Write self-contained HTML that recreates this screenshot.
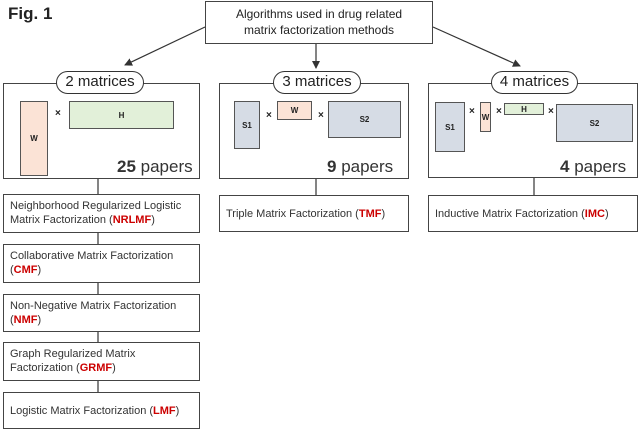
<!DOCTYPE html>
<html><head><style>
body{margin:0;width:640px;height:430px;background:#fff;position:relative;overflow:hidden;font-family:"Liberation Sans",sans-serif;color:#333}
.a{position:absolute;box-sizing:border-box}
.bx{position:absolute;box-sizing:border-box;border:1.5px solid #444;background:#fff}
.pill{position:absolute;box-sizing:border-box;border:1.5px solid #333;border-radius:12px;background:#fff;font-size:15px;text-align:center;line-height:20px;color:#222}
.m{position:absolute;box-sizing:border-box;border:1.5px solid #555;font-size:8px;font-weight:bold;display:flex;align-items:center;justify-content:center;color:#222}
.x{position:absolute;font-size:10px;font-weight:bold;color:#222}
.pp{position:absolute;font-size:17px;color:#333}
.t{position:absolute;font-size:11px;line-height:14px;padding:0 6px;color:#333}
.r{color:#c00;font-weight:bold}
</style></head><body>
<div class="a" style="left:8px;top:4px;font-size:17px;font-weight:bold;color:#222">Fig. 1</div>
<div class="bx" style="left:205px;top:1px;width:228px;height:43px;font-size:12px;text-align:center;line-height:16px;padding-top:4px;color:#222">Algorithms used in drug related<br>matrix factorization methods</div>
<svg class="a" style="left:0;top:0" width="640" height="430">
<defs><marker id="ar" markerWidth="8" markerHeight="8" refX="7" refY="4" orient="auto" markerUnits="userSpaceOnUse"><path d="M0,0 L8,4 L0,8z" fill="#333"/></marker></defs>
<g stroke="#333" stroke-width="1.2">
<line x1="205" y1="27" x2="125" y2="65" marker-end="url(#ar)"/>
<line x1="316" y1="44" x2="316" y2="68" marker-end="url(#ar)"/>
<line x1="433" y1="27" x2="520" y2="66" marker-end="url(#ar)"/>
<line x1="98" y1="178" x2="98" y2="392"/>
<line x1="316" y1="178" x2="316" y2="195"/>
<line x1="534" y1="177" x2="534" y2="195"/>
</g></svg>
<div class="bx" style="left:3px;top:83px;width:197px;height:96px"></div>
<div class="bx" style="left:219px;top:83px;width:190px;height:96px"></div>
<div class="bx" style="left:428px;top:83px;width:210px;height:95px"></div>
<div class="pill" style="left:56px;top:71px;width:88px;height:23px">2 matrices</div>
<div class="pill" style="left:273px;top:71px;width:88px;height:23px">3 matrices</div>
<div class="pill" style="left:491px;top:71px;width:87px;height:23px">4 matrices</div>
<div class="m" style="left:20px;top:101px;width:28px;height:75px;background:#fbe3d6">W</div>
<div class="x" style="left:55px;top:108px">×</div>
<div class="m" style="left:69px;top:101px;width:105px;height:28px;background:#e2f0d9">H</div>
<div class="pp" style="left:117px;top:157px"><b>25</b> papers</div>
<div class="m" style="left:234px;top:101px;width:26px;height:48px;background:#d6dce5">S1</div>
<div class="x" style="left:266px;top:110px">×</div>
<div class="m" style="left:277px;top:101px;width:35px;height:19px;background:#fbe3d6">W</div>
<div class="x" style="left:318px;top:110px">×</div>
<div class="m" style="left:328px;top:101px;width:73px;height:37px;background:#d6dce5">S2</div>
<div class="pp" style="left:327px;top:157px"><b>9</b> papers</div>
<div class="m" style="left:435px;top:102px;width:30px;height:50px;background:#d6dce5">S1</div>
<div class="x" style="left:469px;top:106px">×</div>
<div class="m" style="left:480px;top:102px;width:11px;height:30px;background:#fbe3d6">W</div>
<div class="x" style="left:496px;top:106px">×</div>
<div class="m" style="left:504px;top:103px;width:40px;height:12px;background:#e2f0d9">H</div>
<div class="x" style="left:548px;top:106px">×</div>
<div class="m" style="left:556px;top:104px;width:77px;height:38px;background:#d6dce5">S2</div>
<div class="pp" style="left:560px;top:157px"><b>4</b> papers</div>
<div class="bx t" style="left:3px;top:194px;width:197px;height:39px;padding-top:4px">Neighborhood Regularized Logistic Matrix Factorization (<span class="r">NRLMF</span>)</div>
<div class="bx t" style="left:3px;top:244px;width:197px;height:39px;padding-top:4px">Collaborative Matrix Factorization (<span class="r">CMF</span>)</div>
<div class="bx t" style="left:3px;top:294px;width:197px;height:38px;padding-top:4px">Non-Negative Matrix Factorization (<span class="r">NMF</span>)</div>
<div class="bx t" style="left:3px;top:342px;width:197px;height:39px;padding-top:4px">Graph Regularized Matrix Factorization (<span class="r">GRMF</span>)</div>
<div class="bx t" style="left:3px;top:392px;width:197px;height:37px;padding-top:11px">Logistic Matrix Factorization (<span class="r">LMF</span>)</div>
<div class="bx t" style="left:219px;top:195px;width:190px;height:37px;padding-top:11px">Triple Matrix Factorization (<span class="r">TMF</span>)</div>
<div class="bx t" style="left:428px;top:195px;width:210px;height:37px;padding-top:11px">Inductive Matrix Factorization (<span class="r">IMC</span>)</div>
</body></html>
